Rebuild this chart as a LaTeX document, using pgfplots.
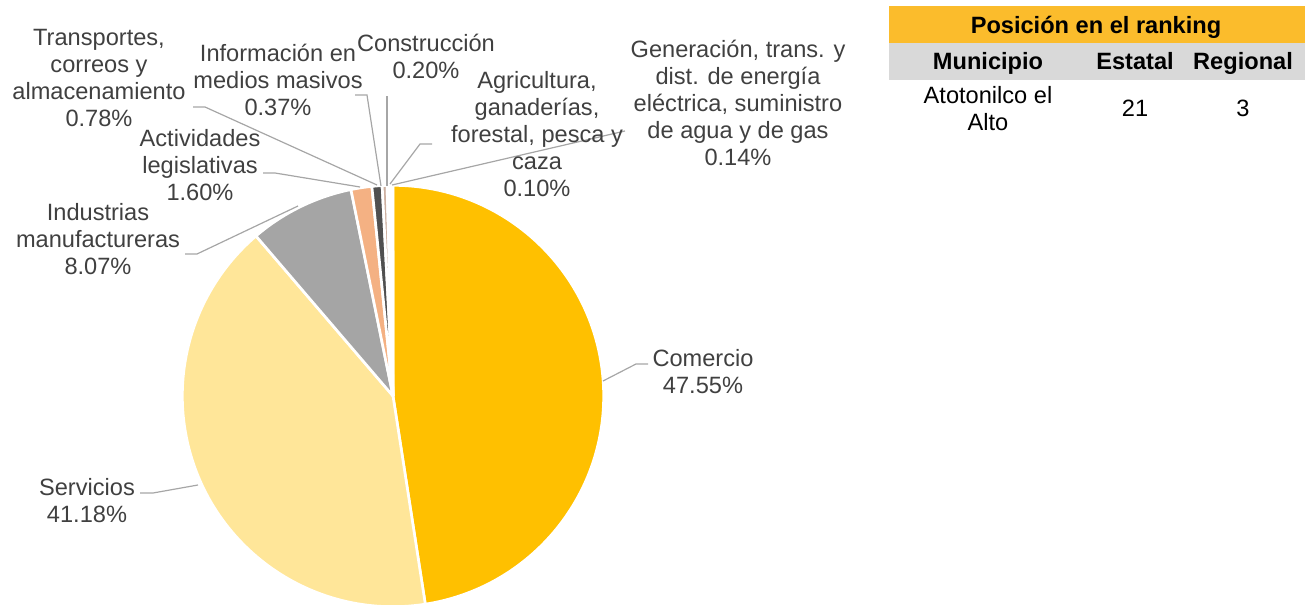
\documentclass[border=0pt]{standalone}
\usepackage{pgfplots}
\usepackage{pgfplotstable}
\pgfplotsset{compat=1.18}
\usepackage{fontspec}
\setmainfont{Liberation Sans}

\definecolor{cCom}{HTML}{FFC000}
\definecolor{cSer}{HTML}{FFE699}
\definecolor{cInd}{HTML}{A5A5A5}
\definecolor{cAct}{HTML}{F4B183}
\definecolor{cTra}{HTML}{505050}
\definecolor{cInf}{HTML}{CDB0A0}
\definecolor{cCon}{HTML}{BF9000}
\definecolor{cAgr}{HTML}{FFD966}
\definecolor{cGen}{HTML}{9DC3E6}
\definecolor{labtxt}{HTML}{404040}
\definecolor{leader}{HTML}{A6A6A6}
\definecolor{tgold}{HTML}{FBBC2C}
\definecolor{tgray}{HTML}{D9D9D9}

\pgfplotstableread[col sep=comma]{
name,pct,col
Comercio,47.55,cCom
Servicios,41.18,cSer
Industrias manufactureras,8.07,cInd
Actividades legislativas,1.60,cAct
Transportes correos y almacenamiento,0.78,cTra
Informacion en medios masivos,0.37,cInf
Construccion,0.20,cCon
Agricultura,0.10,cAgr
Generacion,0.14,cGen
}\piedata

\newcommand{\lab}{\fontsize{17.7}{20.3}\selectfont\color{labtxt}}
\newcommand{\tab}{\fontsize{17.7}{20.3}\selectfont}

\begin{document}
\begin{tikzpicture}
\begin{axis}[
  scale only axis, width=979.5pt, height=453.75pt,
  xmin=0, xmax=1306, ymin=0, ymax=605, y dir=reverse,
  hide axis, clip=false,
]
\coordinate (bl) at (rel axis cs:0,0);
\coordinate (tr) at (rel axis cs:1,1);
\pgfplotsextra{
  \pgfplotstablegetrowsof{\piedata}
  \pgfmathtruncatemacro\N{\pgfplotsretval-1}
  \gdef\cum{0}
  \foreach \i in {0,...,\N}{
    \pgfplotstablegetelem{\i}{pct}\of\piedata
    \edef\p{\pgfplotsretval}
    \pgfplotstablegetelem{\i}{col}\of\piedata
    \edef\slicecol{\pgfplotsretval}
    \pgfmathsetmacro\a{90-3.6*\cum}
    \pgfmathsetmacro\b{90-3.6*(\cum+\p)}
    \fill[fill=\slicecol, draw=white, line width=2pt, line join=round]
      (axis cs:393,396) -- ++(\a:158pt) arc[start angle=\a, end angle=\b, radius=158pt] -- cycle;
    \pgfmathsetmacro\nc{\cum+\p}
    \xdef\cum{\nc}
  }
}
% leader lines
\begin{scope}[draw=leader, line width=0.9pt]
\draw (axis cs:603,381) -- (axis cs:636,364) -- (axis cs:648,364);
\draw (axis cs:198,485) -- (axis cs:153,493) -- (axis cs:140,493);
\draw (axis cs:298,206) -- (axis cs:197,254) -- (axis cs:185,254);
\draw (axis cs:360,187) -- (axis cs:275,173) -- (axis cs:263,173);
\draw (axis cs:377,185) -- (axis cs:205,107) -- (axis cs:193,107);
\draw (axis cs:381,186) -- (axis cs:367,95) -- (axis cs:355,95);
\draw (axis cs:387,186) -- (axis cs:387,96);
\draw (axis cs:390,184) -- (axis cs:420,144) -- (axis cs:432,144);
\draw (axis cs:392,185) -- (axis cs:625,131);
\end{scope}
% labels
\node[align=center, font=\lab] at (axis cs:703,372) {Comercio\\47.55\%};
\node[align=center, font=\lab] at (axis cs:87,501) {Servicios\\41.18\%};
\node[align=center, font=\lab] at (axis cs:98,239) {Industrias\\manufactureras\\8.07\%};
\node[align=center, font=\lab] at (axis cs:200,165) {Actividades\\legislativas\\1.60\%};
\node[align=center, font=\lab] at (axis cs:99,78) {Transportes,\\correos y\\almacenamiento\\0.78\%};
\node[align=center, font=\lab] at (axis cs:278,80) {Información en\\medios masivos\\0.37\%};
\node[align=center, font=\lab] at (axis cs:426,56) {Construcción\\0.20\%};
\node[align=center, font=\lab] at (axis cs:537,134) {Agricultura,\\ganaderías,\\forestal, pesca y\\caza\\0.10\%};
\node[align=center, font=\lab] at (axis cs:738,103) {Generación, trans. y\\dist. de energía\\eléctrica, suministro\\de agua y de gas\\0.14\%};
% table
\fill[tgold] (axis cs:889,6) rectangle (axis cs:1305,43);
\fill[tgray] (axis cs:889,43) rectangle (axis cs:1305,80);
\begin{scope}[every node/.style={text height=13pt, text depth=4pt, inner sep=0pt}]
\node[font=\tab\bfseries] at (axis cs:1096,28) {Posición en el ranking};
\node[font=\tab\bfseries] at (axis cs:988,64) {Municipio};
\node[font=\tab\bfseries] at (axis cs:1135,64) {Estatal};
\node[font=\tab\bfseries] at (axis cs:1243,64) {Regional};
\node[font=\tab] at (axis cs:1135,111) {21};
\node[font=\tab] at (axis cs:1243,111) {3};
\end{scope}
\node[font=\tab, align=center] at (axis cs:988,109) {Atotonilco el\\Alto};
\end{axis}
\pgfresetboundingbox
\useasboundingbox (bl) rectangle (tr);
\end{tikzpicture}
\end{document}
